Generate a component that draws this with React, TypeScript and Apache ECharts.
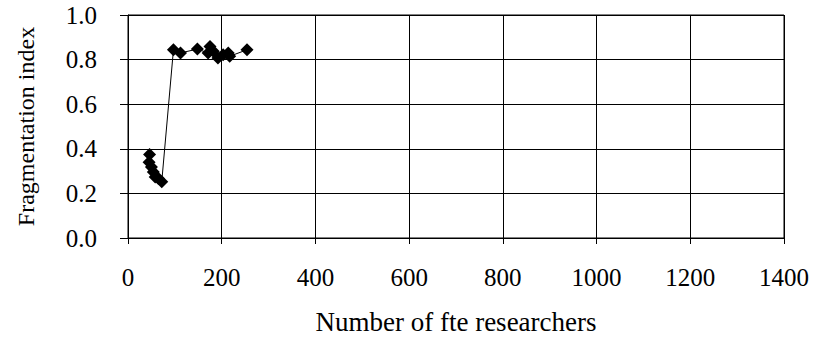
import React, { useEffect, useRef } from "react";
import * as echarts from "echarts";

const researchers = [46, 45, 50, 54, 58, 65, 72, 97, 112, 148, 171, 175, 182, 192, 203, 214, 217, 254];
const fragmentation = [0.375, 0.34, 0.318, 0.296, 0.274, 0.267, 0.252, 0.844, 0.83, 0.847, 0.83, 0.859, 0.837, 0.807, 0.822, 0.83, 0.815, 0.844];
const xTicks = [0, 200, 400, 600, 800, 1000, 1200, 1400];
const yTicks = [0, 0.2, 0.4, 0.6, 0.8, 1.0];

export default function App() {
  const ref = useRef<HTMLDivElement>(null);
  useEffect(() => {
    if (!ref.current) return;
    const chart = echarts.init(ref.current, null, { renderer: "svg" });
    const font = "Liberation Serif";
    chart.setOption({
      animation: false,
      backgroundColor: "#fff",
      textStyle: { fontFamily: font },
      grid: { left: 128, right: 37, top: 15, bottom: 100, show: true, borderColor: "#000", borderWidth: 1 },
      xAxis: {
        type: "value",
        min: xTicks[0],
        max: xTicks[xTicks.length - 1],
        interval: 200,
        name: "Number of fte researchers",
        nameLocation: "middle",
        nameGap: 70,
        nameTextStyle: { fontFamily: font, fontSize: 27, color: "#000" },
        axisLine: { show: true, onZero: false, lineStyle: { color: "#000", width: 1 } },
        axisTick: { show: true, length: 6, lineStyle: { color: "#000" } },
        axisLabel: { fontFamily: font, fontSize: 25, color: "#000", margin: 27, formatter: (v: number) => String(v) },
        splitLine: { show: true, lineStyle: { color: "#000", width: 1 } },
      },
      yAxis: {
        type: "value",
        min: yTicks[0],
        max: yTicks[yTicks.length - 1],
        interval: 0.2,
        name: "Fragmentation index",
        nameLocation: "middle",
        nameGap: 90,
        nameRotate: 90,
        nameTextStyle: { fontFamily: font, fontSize: 24, color: "#000" },
        axisLine: { show: true, lineStyle: { color: "#000", width: 1 } },
        axisTick: { show: true, length: 8, lineStyle: { color: "#000" } },
        axisLabel: { fontFamily: font, fontSize: 25, color: "#000", margin: 31, formatter: (v: number) => v.toFixed(1) },
        splitLine: { show: true, lineStyle: { color: "#000", width: 1 } },
      },
      series: [
        {
          type: "line",
          data: researchers.map((x, i) => [x, fragmentation[i]]),
          symbol: "diamond",
          symbolSize: 13,
          itemStyle: { color: "#000" },
          lineStyle: { color: "#000", width: 1 },
        },
      ],
    });
    return () => chart.dispose();
  }, []);
  return <div ref={ref} style={{ width: 821, height: 340, position: "absolute", left: 0, top: 0 }} />;
}
